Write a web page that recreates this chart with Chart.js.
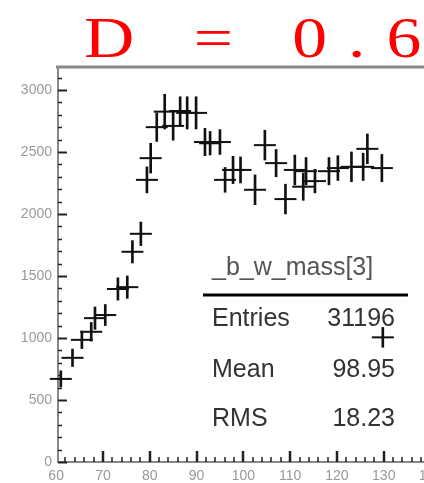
<!DOCTYPE html>
<html>
<head>
<meta charset="utf-8">
<script src="https://cdn.jsdelivr.net/npm/chart.js@4.4.1/dist/chart.umd.min.js"></script>
<style>
    html, body { margin: 0; padding: 0; background: #fff; }
</style>
</head>
<body>
<canvas id="b_w_mass_plot" width="424" height="483"></canvas>
<script>
// bin centres (x) and contents
const binCenters = [61.0, 63.5, 65.5, 67.5, 68.3, 70.5, 73.2, 75.2, 76.3, 78.1,
                    79.4, 80.2, 81.5, 83.2, 85.0, 86.5, 88.0, 89.9, 91.8, 92.9,
                    95.0, 96.1, 97.8, 99.4, 102.5, 104.6, 107.0, 109.0, 111.0, 112.8,
                    113.4, 115.3, 118.3, 120.2, 123.1, 125.6, 126.5, 129.6, 129.8];
const binCounts = [670, 840, 985, 1050, 1160, 1185, 1395, 1410, 1695, 1840,
                   2275, 2450, 2700, 2825, 2710, 2830, 2815, 2815, 2580, 2570,
                   2580, 2275, 2355, 2355, 2195, 2555, 2410, 2120, 2355, 2220,
                   2345, 2265, 2345, 2370, 2380, 2380, 2525, 2370, 1005];
const countErrors = [65, 70, 70, 75, 90, 85, 90, 90, 90, 95,
                     105, 120, 115, 140, 115, 115, 130, 130, 110, 95,
                     100, 100, 110, 105, 120, 120, 110, 120, 120, 110,
                     110, 95, 110, 100, 120, 110, 120, 110, 80];
const binHalfWidth = 2.35;

const xTickLabels = [60, 70, 80, 90, 100, 110, 120, 130, 140];
const yTickLabels = [0, 500, 1000, 1500, 2000, 2500, 3000];

const titleText = 'D = 0.6';
const statsTitle = '_b_w_mass[3]';
const statsNames = ['Entries', 'Mean', 'RMS'];
const statsValues = ['31196', '98.95', '18.23'];

const ctx = document.getElementById('b_w_mass_plot').getContext('2d');

function halfWidthPx(chart) {
    const s = chart.scales.x;
    return Math.abs(s.getPixelForValue(binHalfWidth) - s.getPixelForValue(0));
}

function noPadding(s) {
    s.paddingLeft = 0;
    s.paddingRight = 0;
    s.paddingTop = 0;
    s.paddingBottom = 0;
}

// ROOT style: inward ticks, top frame, title and stats box
const rootPad = {
    id: 'rootPad',
    afterDraw(chart) {
        const c = chart.ctx;
        const area = chart.chartArea;
        const xs = chart.scales.x;
        const ys = chart.scales.y;
        c.save();

        c.strokeStyle = '#888';
        c.lineWidth = 3;
        c.beginPath();
        c.moveTo(area.left - 2, area.top);
        c.lineTo(chart.width, area.top);
        c.stroke();

        c.strokeStyle = '#222';
        for (let v = 0; v <= ys.max; v += 100) {
            const y = Math.round(ys.getPixelForValue(v)) + 0.5;
            const major = v % 500 === 0;
            c.lineWidth = major ? 2 : 1.5;
            c.beginPath();
            c.moveTo(area.left, y);
            c.lineTo(area.left + (major ? 9 : 4), y);
            c.stroke();
        }
        for (let v = 62; v <= xs.max; v += 2) {
            const x = Math.round(xs.getPixelForValue(v));
            const major = v % 10 === 0;
            c.lineWidth = major ? 2.5 : 1.5;
            c.beginPath();
            c.moveTo(x, area.bottom);
            c.lineTo(x, area.bottom - (major ? 11 : 5));
            c.stroke();
        }

        // wide serif title
        c.save();
        c.scale(1.2, 1);
        c.fillStyle = '#ff0000';
        c.font = '58px "Liberation Serif"';
        c.letterSpacing = '17.5px';
        c.textBaseline = 'alphabetic';
        c.fillText(titleText, 70, 57);
        c.restore();

        c.fillStyle = '#555';
        c.font = '25px "Liberation Sans"';
        c.fillText(statsTitle, 212, 275);
        c.strokeStyle = '#000';
        c.lineWidth = 3;
        c.beginPath();
        c.moveTo(203, 295);
        c.lineTo(408, 295);
        c.stroke();

        c.fillStyle = '#333';
        const rows = [326, 377, 426];
        statsNames.forEach((name, i) => {
            c.textAlign = 'left';
            c.fillText(name, 212, rows[i]);
            c.textAlign = 'right';
            c.fillText(statsValues[i], 395, rows[i]);
        });
        c.restore();
    }
};

const chart = new Chart(ctx, {
    type: 'bar',
    data: {
        datasets: [{
            type: 'bar',
            label: 'errors',
            data: binCenters.map((x, i) => ({x: x, y: [binCounts[i] - countErrors[i], binCounts[i] + countErrors[i]]})),
            backgroundColor: '#111',
            barThickness: 2,
            grouped: false,
            clip: false
        }, {
            type: 'scatter',
            label: 'bins',
            data: binCenters.map((x, i) => ({x: x, y: binCounts[i]})),
            pointStyle: 'line',
            borderColor: '#111',
            borderWidth: 2,
            radius: c => halfWidthPx(c.chart),
            hoverRadius: c => halfWidthPx(c.chart),
            clip: false
        }]
    },
    options: {
        responsive: false,
        animation: false,
        events: [],
        layout: {
            autoPadding: false,
            padding: {top: 67, right: 0, bottom: 0, left: 0}
        },
        plugins: {
            legend: {display: false},
            tooltip: {enabled: false},
            title: {display: false}
        },
        scales: {
            x: {
                type: 'linear',
                offset: false,
                min: 60.4,
                max: 138.6,
                grid: {display: false, drawTicks: false, offset: false},
                border: {color: '#888', width: 2},
                afterBuildTicks: s => { s.ticks = xTickLabels.map(v => ({value: v})); },
                ticks: {
                    font: {family: 'Liberation Sans', size: 14},
                    color: '#999',
                    padding: 6,
                    maxRotation: 0,
                    autoSkip: false,
                    callback: v => String(v)
                },
                afterFit: s => { s.height = 21; noPadding(s); }
            },
            y: {
                type: 'linear',
                min: 0,
                max: 3185,
                grid: {display: false, drawTicks: false},
                border: {color: '#888', width: 2},
                afterBuildTicks: s => { s.ticks = yTickLabels.map(v => ({value: v})); },
                ticks: {
                    font: {family: 'Liberation Sans', size: 14},
                    color: '#999',
                    padding: 6,
                    callback: v => String(v)
                },
                afterFit: s => { s.width = 58; noPadding(s); }
            }
        }
    },
    plugins: [rootPad]
});
</script>
</body>
</html>
